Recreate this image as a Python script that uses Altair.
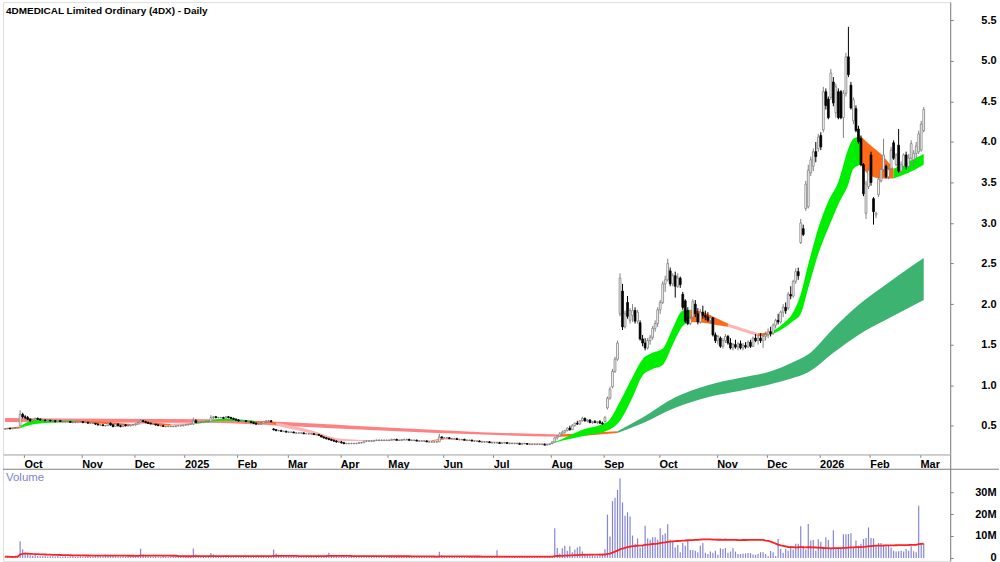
import json
import altair as alt
import pandas as pd

TITLE = "4DMEDICAL Limited Ordinary (4DX) - Daily"

month_names = ["Sep", "Oct", "Nov", "Dec", "2025", "Feb", "Mar", "Apr", "May", "Jun",
               "Jul", "Aug", "Sep", "Oct", "Nov", "Dec", "2026", "Feb", "Mar"]

# daily candles "open high low close"
ohlc_2024_09 = ["0.46 0.47 0.45 0.46", "0.46 0.47 0.46 0.47", "0.47 0.47 0.46 0.46", "0.46 0.47 0.46 0.47",
                "0.47 0.48 0.46 0.47", "0.47 0.48 0.47 0.48", "0.50 0.69 0.50 0.64", "0.64 0.66 0.59 0.61"]
ohlc_2024_10 = ["0.61 0.63 0.58 0.60", "0.60 0.62 0.57 0.58", "0.58 0.59 0.55 0.56", "0.56 0.58 0.55 0.57",
                "0.57 0.60 0.56 0.59", "0.59 0.60 0.57 0.58", "0.58 0.59 0.56 0.57", "0.57 0.58 0.56 0.57",
                "0.57 0.58 0.56 0.56", "0.56 0.58 0.55 0.57", "0.57 0.57 0.55 0.56", "0.56 0.57 0.55 0.56",
                "0.56 0.57 0.54 0.55", "0.55 0.57 0.55 0.56", "0.56 0.57 0.55 0.55", "0.55 0.56 0.54 0.55",
                "0.55 0.56 0.54 0.55", "0.55 0.56 0.54 0.55", "0.55 0.56 0.54 0.54", "0.54 0.55 0.53 0.54",
                "0.54 0.55 0.53 0.54", "0.54 0.55 0.54 0.55", "0.55 0.56 0.54 0.55"]
ohlc_2024_11 = ["0.55 0.55 0.53 0.54", "0.54 0.55 0.53 0.54", "0.54 0.55 0.53 0.53", "0.53 0.54 0.52 0.53",
                "0.53 0.54 0.52 0.53", "0.53 0.53 0.51 0.52", "0.52 0.53 0.50 0.51", "0.51 0.52 0.50 0.51",
                "0.51 0.52 0.50 0.50", "0.50 0.51 0.49 0.50", "0.50 0.54 0.50 0.53", "0.53 0.54 0.50 0.51",
                "0.51 0.52 0.48 0.49", "0.49 0.53 0.49 0.52", "0.52 0.53 0.49 0.50", "0.50 0.51 0.48 0.49",
                "0.49 0.52 0.48 0.51", "0.51 0.52 0.49 0.50", "0.50 0.51 0.49 0.50", "0.50 0.51 0.49 0.51",
                "0.51 0.52 0.50 0.51"]
ohlc_2024_12 = ["0.51 0.53 0.50 0.52", "0.52 0.55 0.52 0.54", "0.54 0.58 0.54 0.56", "0.56 0.57 0.54 0.55",
                "0.55 0.56 0.53 0.54", "0.54 0.55 0.52 0.53", "0.53 0.54 0.52 0.52", "0.52 0.53 0.51 0.52",
                "0.52 0.52 0.50 0.51", "0.51 0.52 0.50 0.50", "0.50 0.51 0.49 0.50", "0.50 0.51 0.49 0.49",
                "0.49 0.50 0.48 0.49", "0.49 0.50 0.48 0.49", "0.49 0.50 0.48 0.49", "0.49 0.50 0.48 0.49",
                "0.49 0.50 0.48 0.50", "0.50 0.51 0.49 0.50", "0.50 0.51 0.49 0.50", "0.50 0.51 0.49 0.51"]
ohlc_2025_01 = ["0.51 0.52 0.50 0.51", "0.51 0.52 0.50 0.52", "0.52 0.53 0.51 0.52", "0.52 0.60 0.51 0.56",
                "0.56 0.58 0.53 0.54", "0.54 0.55 0.53 0.54", "0.54 0.55 0.53 0.54", "0.54 0.55 0.53 0.55",
                "0.55 0.56 0.54 0.55", "0.55 0.56 0.54 0.55", "0.55 0.63 0.55 0.60", "0.60 0.62 0.58 0.61",
                "0.61 0.62 0.59 0.60", "0.60 0.61 0.59 0.60", "0.60 0.61 0.59 0.60", "0.60 0.61 0.58 0.59",
                "0.59 0.62 0.59 0.61", "0.61 0.62 0.59 0.60", "0.60 0.61 0.58 0.59", "0.59 0.60 0.57 0.58",
                "0.58 0.59 0.56 0.57"]
ohlc_2025_02 = ["0.57 0.58 0.55 0.56", "0.56 0.57 0.55 0.56", "0.56 0.57 0.55 0.56", "0.56 0.57 0.55 0.55",
                "0.55 0.56 0.54 0.55", "0.55 0.56 0.53 0.54", "0.54 0.55 0.52 0.53", "0.53 0.54 0.51 0.52",
                "0.52 0.53 0.51 0.52", "0.52 0.54 0.51 0.53", "0.53 0.56 0.53 0.55", "0.55 0.57 0.54 0.56",
                "0.56 0.57 0.55 0.56", "0.56 0.57 0.54 0.55", "0.46 0.47 0.44 0.45", "0.45 0.46 0.43 0.44",
                "0.44 0.45 0.43 0.44", "0.44 0.45 0.43 0.43", "0.43 0.44 0.42 0.43", "0.43 0.44 0.42 0.42"]
ohlc_2025_03 = ["0.42 0.43 0.41 0.42", "0.42 0.43 0.41 0.42", "0.42 0.43 0.41 0.41", "0.41 0.42 0.40 0.41",
                "0.41 0.42 0.40 0.41", "0.41 0.42 0.40 0.41", "0.41 0.42 0.40 0.40", "0.40 0.41 0.40 0.40",
                "0.40 0.41 0.39 0.40", "0.40 0.41 0.39 0.40", "0.40 0.41 0.39 0.39", "0.39 0.40 0.38 0.39",
                "0.39 0.40 0.38 0.38", "0.38 0.38 0.36 0.36", "0.36 0.37 0.34 0.35", "0.35 0.36 0.33 0.34",
                "0.34 0.35 0.32 0.33", "0.33 0.34 0.31 0.32", "0.32 0.33 0.30 0.31", "0.31 0.32 0.29 0.30",
                "0.30 0.31 0.29 0.30"]
ohlc_2025_04 = ["0.30 0.31 0.28 0.29", "0.29 0.30 0.27 0.28", "0.28 0.29 0.27 0.28", "0.28 0.29 0.27 0.28",
                "0.28 0.29 0.27 0.28", "0.28 0.29 0.27 0.28", "0.28 0.29 0.27 0.28", "0.28 0.30 0.28 0.29",
                "0.29 0.30 0.28 0.29", "0.29 0.31 0.29 0.31", "0.31 0.32 0.30 0.31", "0.31 0.32 0.30 0.31",
                "0.31 0.32 0.30 0.31", "0.31 0.32 0.30 0.32", "0.32 0.33 0.31 0.32", "0.32 0.33 0.31 0.32",
                "0.32 0.33 0.31 0.32", "0.32 0.33 0.31 0.32", "0.32 0.33 0.31 0.32"]
ohlc_2025_05 = ["0.32 0.33 0.31 0.32", "0.32 0.34 0.32 0.33", "0.33 0.34 0.32 0.33", "0.33 0.34 0.32 0.32",
                "0.32 0.33 0.31 0.32", "0.32 0.33 0.31 0.33", "0.33 0.34 0.32 0.33", "0.33 0.34 0.32 0.33",
                "0.33 0.34 0.32 0.32", "0.32 0.33 0.31 0.32", "0.32 0.33 0.31 0.32", "0.32 0.33 0.31 0.31",
                "0.31 0.32 0.30 0.31", "0.31 0.32 0.30 0.31", "0.31 0.32 0.30 0.31", "0.31 0.32 0.30 0.30",
                "0.30 0.31 0.29 0.30", "0.30 0.31 0.29 0.30", "0.30 0.31 0.29 0.30", "0.30 0.31 0.29 0.30",
                "0.30 0.40 0.30 0.36", "0.36 0.37 0.34 0.35"]
ohlc_2025_06 = ["0.35 0.36 0.34 0.35", "0.35 0.36 0.34 0.35", "0.35 0.36 0.34 0.34", "0.34 0.35 0.33 0.34",
                "0.34 0.35 0.33 0.34", "0.34 0.35 0.33 0.33", "0.33 0.34 0.32 0.33", "0.33 0.34 0.32 0.33",
                "0.33 0.34 0.32 0.32", "0.32 0.33 0.31 0.32", "0.32 0.33 0.31 0.32", "0.32 0.33 0.31 0.31",
                "0.31 0.32 0.30 0.31", "0.31 0.32 0.30 0.31", "0.31 0.32 0.30 0.30", "0.30 0.31 0.29 0.30",
                "0.30 0.31 0.29 0.30", "0.30 0.31 0.29 0.30", "0.30 0.31 0.29 0.29", "0.29 0.30 0.28 0.29"]
ohlc_2025_07 = ["0.29 0.30 0.28 0.29", "0.29 0.30 0.28 0.29", "0.29 0.30 0.28 0.28", "0.28 0.29 0.28 0.29",
                "0.29 0.30 0.28 0.29", "0.29 0.30 0.28 0.28", "0.28 0.29 0.27 0.28", "0.28 0.29 0.27 0.28",
                "0.28 0.29 0.27 0.28", "0.28 0.29 0.27 0.28", "0.28 0.29 0.27 0.27", "0.27 0.28 0.27 0.28",
                "0.28 0.29 0.27 0.28", "0.28 0.28 0.27 0.27", "0.27 0.28 0.26 0.27", "0.27 0.28 0.26 0.27",
                "0.27 0.28 0.26 0.27", "0.27 0.28 0.26 0.27", "0.27 0.28 0.26 0.27", "0.27 0.28 0.26 0.27",
                "0.27 0.28 0.26 0.26", "0.26 0.27 0.26 0.27", "0.27 0.28 0.26 0.27"]
ohlc_2025_08 = ["0.28 0.31 0.27 0.30", "0.30 0.36 0.30 0.35", "0.35 0.38 0.33 0.37", "0.37 0.42 0.36 0.40",
                "0.40 0.44 0.38 0.42", "0.42 0.45 0.40 0.44", "0.44 0.48 0.43 0.47", "0.47 0.50 0.44 0.45",
                "0.45 0.52 0.45 0.50", "0.50 0.54 0.49 0.53", "0.53 0.56 0.51 0.52", "0.52 0.57 0.51 0.56",
                "0.56 0.61 0.55 0.59", "0.59 0.60 0.55 0.56", "0.56 0.58 0.54 0.57", "0.57 0.58 0.53 0.54",
                "0.54 0.56 0.52 0.55", "0.55 0.57 0.53 0.54", "0.54 0.56 0.52 0.55", "0.55 0.57 0.53 0.53",
                "0.53 0.55 0.51 0.52"]
ohlc_2025_09 = ["0.55 0.62 0.54 0.60", "0.72 0.86 0.70 0.84", "0.84 0.98 0.82 0.95", "0.98 1.20 0.96 1.17",
                "1.17 1.35 1.15 1.32", "1.32 1.55 1.30 1.52", "1.88 2.38 1.85 2.32", "2.16 2.25 1.68 1.72",
                "1.72 1.92 1.70 1.88", "2.02 2.10 1.82 1.85", "1.80 1.95 1.76 1.92", "1.86 2.00 1.78 1.92",
                "1.92 1.96 1.76 1.79", "1.79 1.93 1.76 1.90", "1.77 1.80 1.55 1.57", "1.57 1.62 1.48 1.52",
                "1.52 1.58 1.43 1.46", "1.46 1.58 1.44 1.55", "1.55 1.62 1.50 1.59", "1.59 1.73 1.56 1.70",
                "1.70 1.80 1.66 1.76", "1.76 1.96 1.72 1.93"]
ohlc_2025_10 = ["1.93 2.05 1.88 2.02", "2.02 2.28 2.00 2.25", "2.25 2.35 2.15 2.30", "2.30 2.56 2.28 2.50",
                "2.41 2.45 2.22 2.25", "2.25 2.38 2.22 2.35", "2.35 2.40 2.08 2.22", "2.22 2.38 2.20 2.32",
                "2.32 2.34 2.20 2.24", "2.12 2.15 1.93 1.96", "2.04 2.06 1.77 1.79", "1.92 1.96 1.74 1.76",
                "1.76 1.85 1.74 1.82", "1.84 2.06 1.82 2.03", "2.00 2.05 1.84 1.88", "1.88 1.95 1.75 1.78",
                "1.78 1.94 1.76 1.90", "1.90 1.98 1.82 1.86", "1.86 1.92 1.80 1.84", "1.84 1.90 1.78 1.80",
                "1.80 1.86 1.76 1.83", "1.83 1.84 1.60 1.62", "1.62 1.65 1.52 1.55"]
ohlc_2025_11 = ["1.55 1.62 1.50 1.60", "1.58 1.60 1.46 1.48", "1.48 1.58 1.45 1.55", "1.55 1.63 1.52 1.60",
                "1.60 1.62 1.50 1.52", "1.52 1.58 1.44 1.46", "1.46 1.52 1.43 1.50", "1.50 1.56 1.45 1.47",
                "1.47 1.53 1.43 1.51", "1.51 1.55 1.44 1.46", "1.46 1.52 1.43 1.49", "1.49 1.53 1.45 1.47",
                "1.47 1.55 1.46 1.53", "1.53 1.56 1.46 1.48", "1.48 1.60 1.47 1.58", "1.58 1.63 1.53 1.55",
                "1.55 1.62 1.50 1.58", "1.58 1.64 1.52 1.55", "1.55 1.62 1.46 1.60", "1.60 1.66 1.55 1.62"]
ohlc_2025_12 = ["1.62 1.70 1.58 1.66", "1.66 1.72 1.60 1.64", "1.64 1.76 1.62 1.74", "1.74 1.82 1.70 1.80",
                "1.80 1.88 1.75 1.78", "1.78 1.92 1.76 1.90", "1.90 2.00 1.84 1.96", "1.96 2.02 1.88 1.92",
                "1.95 2.15 1.93 2.12", "2.12 2.22 2.06 2.10", "2.10 2.30 2.08 2.28", "2.28 2.44 2.25 2.40",
                "2.40 2.45 2.30 2.35", "2.76 3.05 2.74 3.00", "2.93 2.98 2.84 2.86", "3.18 3.52 3.15 3.48",
                "3.20 3.72 3.18 3.65", "3.62 3.82 3.58 3.78", "3.70 3.92 3.64 3.88", "3.88 4.00 3.75 3.82",
                "3.92 4.10 3.88 4.06"]
ohlc_2026_01 = ["4.08 4.12 3.90 3.94", "4.15 4.68 4.12 4.62", "4.62 4.66 4.40 4.45", "4.53 4.56 4.28 4.30",
                "4.55 4.90 4.52 4.85", "4.74 4.80 4.44 4.48", "4.36 4.72 4.30 4.68", "4.62 4.66 4.28 4.30",
                "4.62 4.64 4.28 4.30", "4.30 4.64 4.05 4.60", "4.60 5.10 4.56 5.05", "5.05 5.42 4.80 4.83",
                "4.70 4.74 4.40 4.42", "4.26 4.55 4.22 4.52", "4.41 4.45 4.12 4.14", "4.16 4.20 3.98 4.00",
                "4.04 4.08 3.70 3.72", "3.72 3.74 3.33 3.36", "3.12 3.52 3.05 3.48", "3.45 3.68 3.42 3.65"]
ohlc_2026_02 = ["3.84 3.88 3.46 3.50", "3.30 3.32 2.98 3.14", "3.10 3.14 3.06 3.12", "3.35 3.56 3.32 3.54",
                "3.52 3.68 3.50 3.66", "3.66 4.04 3.64 3.84", "3.70 3.72 3.55 3.57", "3.57 3.68 3.54 3.66",
                "3.67 3.94 3.65 3.90", "3.99 4.02 3.78 3.80", "3.72 3.86 3.70 3.84", "3.96 4.16 3.62 3.64",
                "3.64 3.76 3.62 3.72", "3.70 3.86 3.68 3.84", "3.84 3.88 3.66 3.70", "3.70 3.85 3.68 3.80",
                "3.80 4.02 3.78 3.98", "3.78 3.90 3.70 3.86", "3.86 4.00 3.80 3.95", "3.88 4.14 3.85 4.10"]
ohlc_2026_03 = ["3.90 4.26 3.88 4.22", "4.14 4.43 4.12 4.40"]

# daily volume, millions of shares
vol_2024_09 = [0.6, 0.5, 0.4, 0.5, 0.6, 0.8, 7.6, 4.0]
vol_2024_10 = [2.5, 1.8, 1.2, 1.0, 1.4, 0.9, 0.8, 0.7, 0.9, 0.6, 0.8, 0.7, 0.6, 0.9, 0.5, 0.6, 0.7, 0.5, 0.6, 0.8,
               0.5, 0.6, 0.7]
vol_2024_11 = [0.6, 0.5, 0.7, 0.6, 0.5, 0.8, 0.9, 0.7, 0.6, 1.5, 1.2, 0.8, 0.9, 0.7, 0.6, 0.5, 0.7, 0.6, 0.5, 0.6,
               0.7]
vol_2024_12 = [0.8, 1.2, 4.2, 1.5, 0.9, 0.7, 0.6, 0.5, 0.6, 0.5, 0.4, 0.5, 0.6, 0.4, 0.3, 0.4, 0.5, 0.4, 0.5, 0.6]
vol_2025_01 = [0.6, 0.5, 0.7, 4.3, 1.5, 0.8, 0.6, 0.7, 0.6, 0.5, 2.2, 1.6, 1.0, 0.8, 0.7, 0.6, 1.2, 0.8, 0.7, 0.6,
               0.5]
vol_2025_02 = [0.6, 0.5, 0.6, 0.5, 0.7, 0.8, 0.9, 0.7, 0.6, 0.8, 1.0, 0.8, 0.7, 0.6, 3.8, 2.0, 1.2, 0.9, 0.8, 0.7]
vol_2025_03 = [0.8, 0.6, 0.7, 0.5, 0.6, 0.7, 0.5, 0.6, 0.5, 0.6, 0.7, 0.5, 0.6, 0.9, 1.0, 0.8, 2.4, 1.0, 0.8, 0.7,
               0.6]
vol_2025_04 = [0.8, 0.9, 0.6, 0.5, 0.6, 0.5, 0.4, 0.5, 0.6, 0.9, 0.7, 0.5, 0.6, 0.5, 0.4, 0.5, 0.6, 0.5, 0.4]
vol_2025_05 = [0.5, 0.6, 0.5, 0.4, 0.5, 0.6, 0.5, 0.4, 0.5, 0.4, 0.5, 0.6, 0.5, 0.4, 0.5, 0.4, 0.6, 0.5, 0.4, 0.5,
               2.8, 1.2]
vol_2025_06 = [0.8, 0.6, 0.5, 0.6, 0.5, 0.4, 0.5, 0.6, 0.4, 0.5, 0.4, 0.5, 0.6, 0.5, 0.4, 0.5, 0.4, 0.5, 0.4, 0.5]
vol_2025_07 = [0.5, 3.5, 0.8, 0.6, 0.5, 0.4, 0.5, 0.6, 0.4, 0.5, 0.4, 0.5, 0.4, 0.5, 0.6, 0.4, 0.5, 0.4, 0.5, 0.4,
               0.5, 0.6, 0.5]
vol_2025_08 = [0.8, 13.5, 4.5, 2.0, 4.4, 5.5, 3.3, 5.3, 2.6, 3.8, 4.8, 5.3, 2.9, 1.5, 1.5, 1.5, 1.2, 1.0, 1.0, 2.0,
               2.0]
vol_2025_09 = [4.0, 19.7, 9.8, 25.9, 27.4, 31.0, 36.2, 25.3, 19.2, 20.8, 18.9, 10.2, 6.4, 8.9, 4.8, 5.6, 14.7,
               8.9, 8.3, 9.4, 9.4, 8.3]
vol_2025_10 = [13.5, 10.5, 11.2, 15.3, 8.3, 7.4, 4.8, 5.9, 2.6, 6.8, 5.6, 8.2, 3.6, 3.6, 3.3, 2.6, 5.6, 6.8, 2.3,
               1.8, 2.9, 2.3, 3.3]
vol_2025_11 = [1.4, 4.4, 4.1, 4.5, 2.3, 2.9, 4.5, 2.9, 1.8, 1.8, 2.0, 2.0, 2.2, 2.2, 1.5, 1.4, 1.8, 2.6, 2.6, 1.8]
vol_2025_12 = [0.8, 3.2, 2.6, 0.8, 8.6, 4.1, 2.3, 4.1, 3.3, 5.3, 3.8, 6.4, 6.4, 14.4, 5.6, 3.8, 15.5, 7.9, 8.2,
               3.3, 8.5]
vol_2026_01 = [7.4, 4.1, 9.4, 8.2, 4.1, 12.6, 4.1, 4.8, 4.1, 10.8, 10.8, 10.9, 11.2, 4.5, 7.9, 5.6, 6.4, 8.6, 9.1,
               13.9]
vol_2026_02 = [9.1, 8.9, 5.6, 6.8, 6.8, 5.6, 5.3, 5.6, 4.8, 3.3, 2.9, 3.0, 3.3, 2.9, 4.1, 3.3, 5.3, 3.0, 2.6, 23.8]
vol_2026_03 = [6.8, 6.4]

# moving-average ribbons: (day index, lower edge, upper edge, colour key)
short_ribbon = [
    (0, 0.455, 0.47, "O"), (6, 0.47, 0.49, "G"), (12, 0.52, 0.57, "G"), (20, 0.54, 0.565, "G"),
    (28, 0.545, 0.56, "O"), (40, 0.52, 0.545, "O"), (50, 0.50, 0.52, "P"), (56, 0.525, 0.545, "O"),
    (66, 0.50, 0.52, "P"), (76, 0.52, 0.54, "G"), (88, 0.56, 0.585, "G"), (100, 0.535, 0.555, "O"),
    (106, 0.535, 0.55, "O"), (108, 0.50, 0.54, "P"), (120, 0.42, 0.46, "P"), (134, 0.31, 0.34, "P"),
    (150, 0.31, 0.32, "P"), (170, 0.31, 0.32, "O"), (175, 0.33, 0.345, "P"), (195, 0.295, 0.305, "P"),
    (217, 0.27, 0.28, "G"), (219, 0.29, 0.30, "G"), (230, 0.37, 0.45, "G"), (240, 0.44, 0.55, "G"),
    (245, 0.56, 0.80, "G"), (250, 0.85, 1.10, "G"), (254, 1.12, 1.32, "G"), (258, 1.20, 1.40, "G"),
    (262, 1.25, 1.45, "G"), (266, 1.50, 1.70, "G"), (270, 1.73, 1.92, "G"), (273, 1.78, 1.93, "O"),
    (278, 1.77, 1.90, "O"), (284, 1.74, 1.82, "O"), (288, 1.72, 1.76, "P"), (296, 1.64, 1.68, "P"),
    (300, 1.60, 1.64, "O"), (305, 1.62, 1.65, "G"), (310, 1.70, 1.76, "G"), (314, 1.79, 1.90, "G"),
    (317, 1.88, 2.12, "G"), (320, 2.20, 2.49, "G"), (324, 2.62, 2.94, "G"), (328, 2.94, 3.27, "G"),
    (332, 3.23, 3.51, "G"), (336, 3.48, 3.92, "G"), (338, 3.67, 4.04, "G"), (341, 3.72, 4.07, "O"),
    (344, 3.60, 3.98, "O"), (349, 3.55, 3.85, "O"), (354, 3.55, 3.67, "G"), (360, 3.62, 3.76, "G"),
    (366, 3.72, 3.85, "G"),
]
long_ribbon = [
    (0, 0.545, 0.595, "S"), (40, 0.54, 0.585, "S"), (80, 0.535, 0.58, "S"), (111, 0.50, 0.545, "S"),
    (150, 0.44, 0.48, "S"), (190, 0.39, 0.42, "S"), (221, 0.365, 0.39, "O"), (232, 0.38, 0.41, "O"),
    (244, 0.41, 0.43, "D"), (254, 0.53, 0.60, "D"), (267, 0.72, 0.85, "D"), (280, 0.85, 1.00, "D"),
    (293, 0.93, 1.09, "D"), (306, 1.02, 1.18, "D"), (313, 1.08, 1.27, "D"), (320, 1.16, 1.38, "D"),
    (330, 1.40, 1.70, "D"), (340, 1.62, 1.99, "D"), (350, 1.79, 2.22, "D"), (358, 1.92, 2.40, "D"),
    (366, 2.05, 2.57, "D"),
]
ribbon_colors = {"G": "#00ee00", "O": "#ff6a1a", "P": "#ffb3b3", "S": "#ff8080", "D": "#3cb371"}

ohlc_blocks = [ohlc_2024_09, ohlc_2024_10, ohlc_2024_11, ohlc_2024_12, ohlc_2025_01, ohlc_2025_02,
               ohlc_2025_03, ohlc_2025_04, ohlc_2025_05, ohlc_2025_06, ohlc_2025_07, ohlc_2025_08,
               ohlc_2025_09, ohlc_2025_10, ohlc_2025_11, ohlc_2025_12, ohlc_2026_01, ohlc_2026_02,
               ohlc_2026_03]
vol_blocks = [vol_2024_09, vol_2024_10, vol_2024_11, vol_2024_12, vol_2025_01, vol_2025_02, vol_2025_03,
              vol_2025_04, vol_2025_05, vol_2025_06, vol_2025_07, vol_2025_08, vol_2025_09, vol_2025_10,
              vol_2025_11, vol_2025_12, vol_2026_01, vol_2026_02, vol_2026_03]

rows, tick_vals, tick_labels = [], [], []
i = 0
for m, (blk, vb) in enumerate(zip(ohlc_blocks, vol_blocks)):
    assert len(blk) == len(vb), (month_names[m], len(blk), len(vb))
    if m > 0:
        tick_vals.append(i - 0.5)  # month boundary falls between two trading days
        tick_labels.append(month_names[m])
    for s, v in zip(blk, vb):
        o, h, l, c = map(float, s.split())
        up = c >= o
        rows.append(dict(idx=i, o=o, h=h, l=l, c=c, v=v * 1e6,
                         fill="#ffffff" if up else "#000000",
                         edge="#808080" if up else "#000000"))
        i += 1
df = pd.DataFrame(rows)


def ribbon_frame(points, name):
    recs, start, seg, n = [], 0, 0, len(points)
    while start < n - 1:
        key = points[start][3]
        end = start
        while end + 1 < n - 1 and points[end + 1][3] == key:
            end += 1
        for k in range(start, end + 2):
            p = points[k]
            recs.append(dict(idx=p[0], lo=p[1], hi=p[2], seg=f"{name}{seg}", col=ribbon_colors[key]))
        seg += 1
        start = end + 1
    return pd.DataFrame(recs)


FONT = "Liberation Sans"
W = 951
xscale = alt.Scale(domain=[-0.833, 376.55], nice=False, zero=False)
lab_expr = f"{json.dumps(tick_labels)}[indexof({json.dumps(tick_vals)}, datum.value)]"
xaxis = alt.Axis(values=tick_vals, labelExpr=lab_expr, orient="bottom", grid=False, title=None,
                 labelAlign="left", labelOffset=0, labelBaseline="top", labelPadding=1, tickSize=3,
                 tickColor="#808080", domainColor="#808080", labelFont=FONT, labelFontWeight="bold",
                 labelFontSize=11, labelColor="#000000", labelOverlap=False, labelFlush=False,
                 labelBound=False)
yscale = alt.Scale(domain=[0.147, 5.725], nice=False, zero=False)
yaxis = alt.Axis(values=[0.5, 1.0, 1.5, 2.0, 2.5, 3.0, 3.5, 4.0, 4.5, 5.0, 5.5], format=".1f",
                 orient="right", grid=False, title=None, tickSize=3, tickColor="#808080",
                 domainColor="#808080", labelAlign="right", labelPadding=43, labelFont=FONT,
                 labelFontWeight="bold", labelFontSize=11, labelColor="#000000")


def X(field):
    return alt.X(f"{field}:Q", scale=xscale, axis=xaxis, title=None)


def Y(field):
    return alt.Y(f"{field}:Q", scale=yscale, axis=yaxis, title=None)


long_area = alt.Chart(ribbon_frame(long_ribbon, "L")).mark_area(interpolate="monotone").encode(
    x=X("idx"), y=Y("lo"), y2="hi:Q", color=alt.Color("col:N", scale=None), detail="seg:N")
short_area = alt.Chart(ribbon_frame(short_ribbon, "S")).mark_area(interpolate="monotone").encode(
    x=X("idx"), y=Y("lo"), y2="hi:Q", color=alt.Color("col:N", scale=None), detail="seg:N")

base = alt.Chart(df)
wicks = base.mark_rule(strokeWidth=1).encode(
    x=X("idx"), y=Y("l"), y2="h:Q", color=alt.Color("edge:N", scale=None))
bodies = base.transform_calculate(
    x0="datum.idx - 0.36", x1="datum.idx + 0.36"
).mark_bar(strokeWidth=0.8).encode(
    x=X("x0"), x2="x1:Q", y=Y("o"), y2="c:Q",
    fill=alt.Fill("fill:N", scale=None), stroke=alt.Stroke("edge:N", scale=None))

title_mark = alt.Chart(pd.DataFrame({"t": [TITLE]})).mark_text(
    align="left", baseline="middle", font=FONT, fontSize=10, fontWeight="bold", color="#000000"
).encode(x=alt.value(3), y=alt.value(9), text="t:N")

price = alt.layer(long_area, short_area, wicks, bodies, title_mark).properties(width=W, height=454)

# volume panel (starts right under the price panel; month labels sit in its top strip)
vscale = alt.Scale(domain=[-1.364e6, 47.27e6], nice=False, zero=False)
vaxis = alt.Axis(values=[0, 1e7, 2e7, 3e7], orient="right", grid=False, title=None, tickSize=3,
                 tickColor="#808080", domainColor="#808080", labelAlign="right", labelPadding=43,
                 labelFont=FONT, labelFontWeight="bold", labelFontSize=11, labelColor="#000000",
                 labelExpr="datum.value == 0 ? '0' : format(datum.value / 1e6, 'd') + 'M'")
vx = alt.X("idx:Q", scale=xscale, axis=None, title=None)

vbase = alt.Chart(df)
vbars = vbase.transform_calculate(zero="0").mark_rule(strokeWidth=1.2, color="#8585d6").encode(
    x=vx, y=alt.Y("v:Q", scale=vscale, axis=vaxis, title=None), y2="zero:Q")
vma = vbase.transform_window(
    vma="mean(v)", frame=[-62, 0], sort=[alt.SortField("idx")]
).mark_line(color="#ff2020", strokeWidth=1.8).encode(
    x=vx, y=alt.Y("vma:Q", scale=vscale, axis=vaxis, title=None))
sep_line = alt.Chart(pd.DataFrame({"y": [40.45e6]})).mark_rule(color="#808080", strokeWidth=1).encode(
    y=alt.Y("y:Q", scale=vscale, axis=vaxis, title=None), x=alt.value(0), x2=alt.value(1000))
vol_label = alt.Chart(pd.DataFrame({"t": ["Volume"]})).mark_text(
    align="left", baseline="middle", font=FONT, fontSize=11.5, color="#7f7fcc"
).encode(x=alt.value(3), y=alt.value(24), text="t:N")

volume = alt.layer(vbars, vma, sep_line, vol_label).properties(width=W, height=107)

chart = alt.vconcat(price, volume, spacing=0, bounds="flush").properties(
    padding={"left": 0, "top": 0, "right": 0, "bottom": 0}
).configure_view(stroke=None).configure(background="#ffffff")

chart.save("out.html", embed_options={"renderer": "svg", "actions": False})
